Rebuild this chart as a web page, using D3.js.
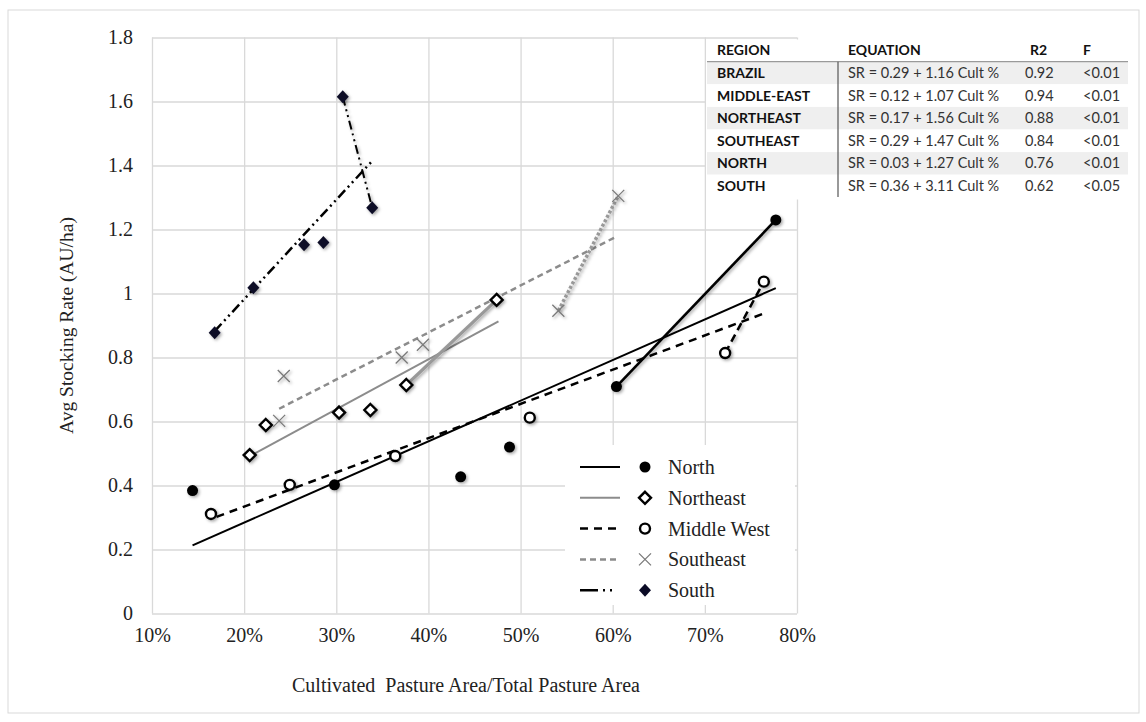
<!DOCTYPE html>
<html>
<head>
<meta charset="utf-8">
<script src="https://cdn.jsdelivr.net/npm/d3@7"></script>
<style>
  body { margin: 0; background: #fff; }
  svg { display: block; }
</style>
</head>
<body>
<svg id="chart"></svg>
<script>
// axis ticks
const xTicks = [10, 20, 30, 40, 50, 60, 70, 80]
const xTickLabels = ['10%', '20%', '30%', '40%', '50%', '60%', '70%', '80%']
const yTicks = [0, 0.2, 0.4, 0.6, 0.8, 1, 1.2, 1.4, 1.6, 1.8]
const yTickLabels = ['0', '0.2', '0.4', '0.6', '0.8', '1', '1.2', '1.4', '1.6', '1.8']

// points per region (x in %, y in AU/ha)
const northX = [14.4, 29.8, 43.5, 48.8, 60.4, 77.7]
const northY = [0.384, 0.402, 0.427, 0.52, 0.709, 1.23]
const northeastX = [20.6, 22.35, 30.3, 33.7, 37.6, 47.4]
const northeastY = [0.495, 0.589, 0.628, 0.636, 0.714, 0.98]
const middleWestX = [16.4, 24.95, 36.4, 51.0, 72.2, 76.4]
const middleWestY = [0.311, 0.402, 0.492, 0.612, 0.814, 1.037]
const southeastX = [23.8, 24.3, 37.1, 39.4, 54.1, 60.6]
const southeastY = [0.602, 0.742, 0.80, 0.84, 0.946, 1.305]
const southX = [16.8, 21.0, 26.5, 28.6, 30.7, 33.9]
const southY = [0.877, 1.018, 1.152, 1.159, 1.615, 1.268]

// fitted lines: intercept, slope (per unit share), x range in %
const fitIntercept = [0.03, 0.17, 0.12, 0.29, 0.36]
const fitSlope = [1.27, 1.56, 1.07, 1.47, 3.11]
const fitFrom = [14.4, 20.6, 17.0, 23.8, 16.8]
const fitTo = [77.7, 47.6, 76.6, 60.5, 33.9]

const seriesNames = ['North', 'Northeast', 'Middle West', 'Southeast', 'South']

// table
const tableHeader = ['REGION', 'EQUATION', 'R2', 'F']
const tableRegion = ['BRAZIL', 'MIDDLE-EAST', 'NORTHEAST', 'SOUTHEAST', 'NORTH', 'SOUTH']
const tableEquation = ['SR = 0.29 + 1.16 Cult %', 'SR = 0.12 + 1.07 Cult %', 'SR = 0.17 + 1.56 Cult %',
  'SR = 0.29 + 1.47 Cult %', 'SR = 0.03 + 1.27 Cult %', 'SR = 0.36 + 3.11 Cult %']
const tableR2 = ['0.92', '0.94', '0.88', '0.84', '0.76', '0.62']
const tableF = ['<0.01', '<0.01', '<0.01', '<0.01', '<0.01', '<0.05']

const width = 1146
const height = 722
const plotLeft = 152
const plotRight = 797
const plotTop = 37.5
const plotBottom = 613.5
const serif = '"Liberation Serif", "Times New Roman", serif'
const sans = 'Lato, "Open Sans", sans-serif'
const gridColor = '#d9d9d9'
const gray = '#8c8c8c'

const svg = d3.select('#chart')
  .attr('width', width)
  .attr('height', height)

const defs = svg.append('defs')
defs.append('filter')
  .attr('id', 'shadow')
  .attr('x', '-50%').attr('y', '-50%').attr('width', '200%').attr('height', '200%')
  .append('feDropShadow')
  .attr('dx', 1.5).attr('dy', 1.5).attr('stdDeviation', 1.4)
  .attr('flood-color', '#000').attr('flood-opacity', 0.35)

svg.append('rect')
  .attr('x', 8).attr('y', 10)
  .attr('width', 1131).attr('height', 703)
  .attr('fill', '#fff')
  .attr('stroke', gridColor)

const x = d3.scaleLinear().domain([10, 80]).range([plotLeft, plotRight])
const y = d3.scaleLinear().domain([0, 1.8]).range([plotBottom, plotTop])

// gridlines + labels
const xAxis = svg.append('g')
  .attr('transform', `translate(0, ${plotBottom})`)
  .call(d3.axisBottom(x)
    .tickValues(xTicks)
    .tickFormat((d, i) => xTickLabels[i])
    .tickSize(-(plotBottom - plotTop))
    .tickPadding(14))
xAxis.select('.domain').remove()

const yAxis = svg.append('g')
  .attr('transform', `translate(${plotLeft}, 0)`)
  .call(d3.axisLeft(y)
    .tickValues(yTicks)
    .tickFormat((d, i) => yTickLabels[i])
    .tickSize(-(plotRight - plotLeft))
    .tickPadding(19))
yAxis.select('.domain').remove()

svg.selectAll('.tick line').attr('stroke', gridColor).attr('stroke-width', 1.3)
svg.selectAll('.tick text')
  .attr('fill', '#222')
  .style('font-family', serif)
  .style('font-size', '20px')

svg.append('text')
  .attr('x', 466).attr('y', 692)
  .attr('text-anchor', 'middle')
  .style('font-family', serif)
  .style('font-size', '20px')
  .attr('fill', '#222')
  .attr('xml:space', 'preserve')
  .text('Cultivated  Pasture Area/Total Pasture Area')

svg.append('text')
  .attr('transform', `translate(73, ${(plotTop + plotBottom) / 2}) rotate(-90)`)
  .attr('text-anchor', 'middle')
  .style('font-family', serif)
  .style('font-size', '19.5px')
  .attr('fill', '#222')
  .text('Avg Stocking Rate (AU/ha)')

// table
const rowY = i => 73 + i * 22.6
const colX = [717, 848, 1030, 1083]
const table = svg.append('g')
table.append('rect')
  .attr('x', 706).attr('y', 39.5)
  .attr('width', 424).attr('height', 160)
  .attr('fill', '#fff')
table.selectAll('rect.band')
  .data(tableRegion)
  .join('rect')
  .attr('class', 'band')
  .attr('x', 707).attr('y', (d, i) => rowY(i) - 11.3)
  .attr('width', 421).attr('height', 22.6)
  .attr('fill', (d, i) => i % 2 === 0 ? '#efefef' : '#fff')
table.append('line')
  .attr('x1', 707).attr('x2', 1128)
  .attr('y1', 61.7).attr('y2', 61.7)
  .attr('stroke', '#9a9a9a').attr('stroke-width', 1.2)
table.append('line')
  .attr('x1', 838).attr('x2', 838)
  .attr('y1', 61.7).attr('y2', 197)
  .attr('stroke', '#555').attr('stroke-width', 1.2)
table.selectAll('text.head')
  .data(tableHeader)
  .join('text')
  .attr('class', 'head')
  .attr('x', (d, i) => colX[i])
  .attr('y', 50)
  .attr('dy', '0.35em')
  .style('font-family', sans)
  .style('font-size', '14px')
  .style('font-weight', 'bold')
  .attr('fill', '#111')
  .text(d => d)
const cols = [tableRegion, tableEquation, tableR2, tableF]
cols.forEach((col, c) => {
  table.selectAll(`text.c${c}`)
    .data(col)
    .join('text')
    .attr('class', `c${c}`)
    .attr('x', colX[c] - (c === 2 ? 5 : 0))
    .attr('y', (d, i) => rowY(i))
    .attr('dy', '0.35em')
    .style('font-family', sans)
    .style('font-size', c === 0 ? '14px' : '14.5px')
    .style('font-weight', c === 0 ? 'bold' : 'normal')
    .attr('fill', c === 0 ? '#111' : '#333')
    .text(d => d)
})

// series
const series = [
  { xs: northX, ys: northY, stroke: '#000', dash: null, w: 2, segDash: null, segW: 2.6, segStroke: '#000', marker: 'dot' },
  { xs: northeastX, ys: northeastY, stroke: gray, dash: null, w: 2, segDash: null, segW: 3.2, segStroke: '#999', marker: 'diamond' },
  { xs: middleWestX, ys: middleWestY, stroke: '#000', dash: '8 6', w: 2.5, segDash: '8 5', segW: 2.5, segStroke: '#000', marker: 'circle' },
  { xs: southeastX, ys: southeastY, stroke: gray, dash: '6 4', w: 2.5, segDash: '3 2', segW: 3.5, segStroke: '#999', marker: 'x' },
  { xs: southX, ys: southY, stroke: '#000', dash: '10 4 2 4 2 4', w: 2.5, segDash: '9 4 2 4 2 4', segW: 2, segStroke: '#000', marker: 'south' }
]

const lineGen = d3.line().x(d => x(d[0])).y(d => y(d[1]))
const plot = svg.append('g')

series.forEach((s, i) => {
  const a = fitIntercept[i], b = fitSlope[i]
  const fit = [fitFrom[i], fitTo[i]].map(p => [p, a + b * p / 100])
  plot.append('path')
    .attr('d', lineGen(fit))
    .attr('fill', 'none')
    .attr('stroke', s.stroke)
    .attr('stroke-width', s.w)
    .attr('stroke-dasharray', s.dash)
})

series.forEach((s, i) => {
  const n = s.xs.length
  const seg = [[s.xs[n - 2], s.ys[n - 2]], [s.xs[n - 1], s.ys[n - 1]]]
  plot.append('path')
    .attr('d', lineGen(seg))
    .attr('fill', 'none')
    .attr('stroke', s.segStroke)
    .attr('stroke-width', s.segW)
    .attr('stroke-dasharray', s.segDash)
    .attr('filter', 'url(#shadow)')
})

const drawMarker = (g, type) => {
  if (type === 'dot') {
    g.append('circle').attr('r', 5.5).attr('fill', '#000')
  } else if (type === 'circle') {
    g.append('circle').attr('r', 5).attr('fill', '#fff').attr('stroke', '#000').attr('stroke-width', 2.4)
  } else if (type === 'diamond') {
    g.append('path').attr('d', 'M0,-6L6,0L0,6L-6,0Z')
      .attr('fill', '#fff').attr('stroke', '#000').attr('stroke-width', 2.4)
  } else if (type === 'south') {
    g.append('path').attr('d', 'M0,-6.5L6,0L0,6.5L-6,0Z').attr('fill', '#0b0b26')
  } else if (type === 'x') {
    g.append('path').attr('d', 'M-6,-6L6,6M6,-6L-6,6')
      .attr('stroke', '#7a7a7a').attr('stroke-width', 1.3).attr('fill', 'none')
  }
}

series.forEach(s => {
  plot.selectAll(null)
    .data(s.xs.map((v, j) => [v, s.ys[j]]))
    .join('g')
    .attr('transform', d => `translate(${x(d[0])}, ${y(d[1])})`)
    .attr('filter', 'url(#shadow)')
    .each(function () { drawMarker(d3.select(this), s.marker) })
})

// legend
const legend = svg.append('g')
legend.append('rect')
  .attr('x', 565).attr('y', 445)
  .attr('width', 230).attr('height', 160)
  .attr('fill', '#fff')
const legendRows = legend.selectAll('g.item')
  .data(series)
  .join('g')
  .attr('class', 'item')
  .attr('transform', (d, i) => `translate(0, ${467 + i * 30.8})`)
legendRows.append('line')
  .attr('x1', 580).attr('x2', (d, i) => i === 4 ? 614 : 620)
  .attr('stroke', d => d.stroke)
  .attr('stroke-width', d => d.w)
  .attr('stroke-dasharray', (d, i) => i === 4 ? '18 5 2 5 2 5' : d.dash)
legendRows.append('g')
  .attr('transform', 'translate(645, 0)')
  .each(function (d) { drawMarker(d3.select(this), d.marker) })
legendRows.append('text')
  .attr('x', 668)
  .attr('dy', '0.35em')
  .style('font-family', serif)
  .style('font-size', '20px')
  .attr('fill', '#222')
  .text((d, i) => seriesNames[i])
</script>
</body>
</html>
